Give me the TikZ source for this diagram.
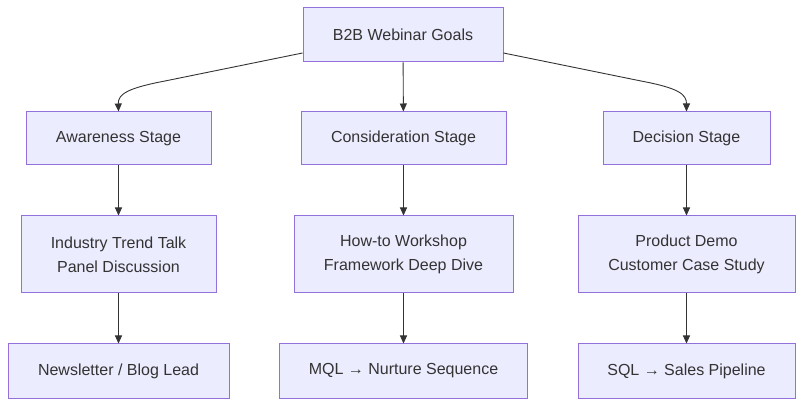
\documentclass[tikz,border=0pt]{standalone}
\usepackage{fontspec}
\setmainfont{Liberation Sans}
\usetikzlibrary{arrows.meta}
\definecolor{boxfill}{HTML}{ECECFF}
\definecolor{boxline}{HTML}{9370DB}
\definecolor{txt}{HTML}{333333}
\tikzset{
  box/.style={draw=boxline, fill=boxfill, line width=1pt, text=txt, align=center,
    font=\fontsize{16}{24}\selectfont, inner sep=0pt},
  link/.style={draw=txt, line width=0.9pt, -{Triangle[length=8pt,width=7pt]}}
}
\begin{document}
\begin{tikzpicture}[x=1pt,y=-1pt]
\useasboundingbox (0,0) rectangle (804,406);
\node[box, minimum width=200pt, minimum height=54pt] (g) at (403,35) {B2B Webinar Goals};
\node[box, minimum width=185pt, minimum height=53pt] (a) at (118.5,138.5) {Awareness Stage};
\node[box, minimum width=205pt, minimum height=53pt] (c) at (403.5,138.5) {Consideration Stage};
\node[box, minimum width=167pt, minimum height=53pt] (d) at (686.5,138.5) {Decision Stage};
\node[box, minimum width=195pt, minimum height=77pt] (a2) at (118.5,254.5) {Industry Trend Talk\\Panel Discussion};
\node[box, minimum width=219pt, minimum height=77pt] (c2) at (403.5,254.5) {How-to Workshop\\Framework Deep Dive};
\node[box, minimum width=217pt, minimum height=77pt] (d2) at (686.5,254.5) {Product Demo\\Customer Case Study};
\node[box, minimum width=221pt, minimum height=54pt] (a3) at (118.5,371) {Newsletter / Blog Lead};
\node[box, minimum width=248pt, minimum height=54pt] (c3) at (403.5,371) {MQL → Nurture Sequence};
\node[box, minimum width=217pt, minimum height=54pt] (d3) at (686.5,371) {SQL → Sales Pipeline};
\draw[link] (g.west |- 0,53) -- (165,81) .. controls (128,88) and (118,94) .. (a.north);
\draw[link] (g.east |- 0,53) -- (641,81) .. controls (678,88) and (686.5,94) .. (d.north);
\draw[link] (g) -- (c);
\draw[link] (a) -- (a2);
\draw[link] (c) -- (c2);
\draw[link] (d) -- (d2);
\draw[link] (a2) -- (a3);
\draw[link] (c2) -- (c3);
\draw[link] (d2) -- (d3);
\end{tikzpicture}
\end{document}
